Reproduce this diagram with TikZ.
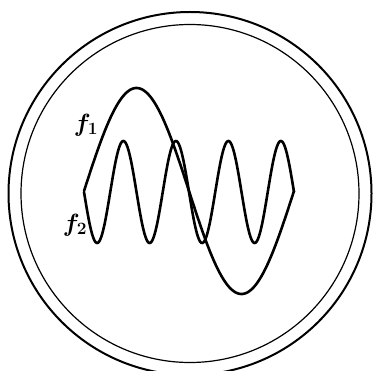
\documentclass[tikz,border=0pt]{standalone}
\usepackage{amssymb,amsmath}
\usepackage{tikz}
\usepackage{xcolor}

\begin{document}
\begin{tikzpicture}[
    x=1pt, y=-1pt,
    every node/.style={font=\fontsize{25}{28}\selectfont\boldmath, inner sep=0pt},
    wave/.style={draw, line width=2.6pt, line join=round, line cap=round},
    rim/.style={draw, line width=2pt},
    innerrim/.style={draw, line width=1.2pt}
]
  \useasboundingbox (0,0) rectangle (374,371);

  % Screen rim
  \coordinate (c) at (190,193.5);
  \draw[rim] (c) circle (181.5);
  \draw[innerrim] (c) circle (169);

  % Low frequency trace
  \draw[wave] plot[domain=84:294, samples=200]
    (\x, {191 - 103*sin((\x-84)*1.7143)});

  % High frequency trace
  \draw[wave] plot[domain=84:294, samples=300]
    (\x, {192 + 51*sin((\x-84)*6.8571)});

  % Labels
  \node (f1) at (86,125) {$f_1$};
  \node (f2) at (75,225) {$f_2$};
\end{tikzpicture}
\end{document}
